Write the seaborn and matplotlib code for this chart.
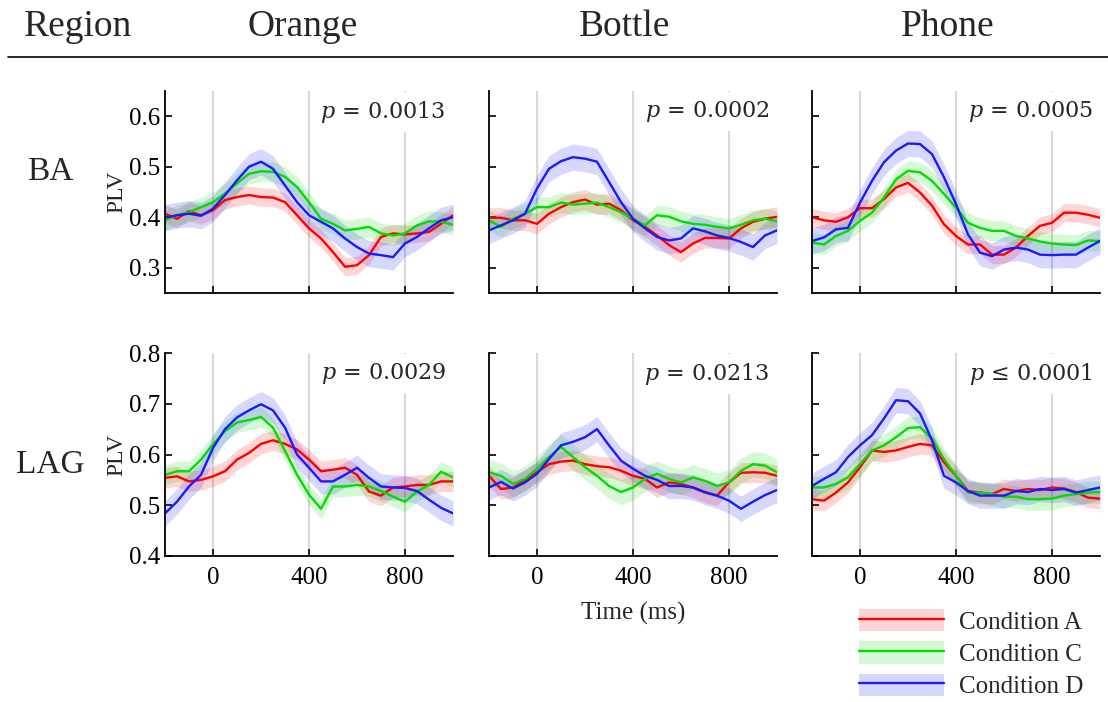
import numpy as np
import pandas as pd
import matplotlib
matplotlib.use("Agg")
import matplotlib.pyplot as plt
import seaborn as sns
from matplotlib.patches import Patch
from matplotlib.lines import Line2D
from matplotlib.legend_handler import HandlerTuple

# ---------------- data ----------------
TIME_MS = [-200, -150, -100, -50, 0, 50, 100, 150, 200, 250, 300, 350, 400,
           450, 500, 550, 600, 650, 700, 750, 800, 850, 900, 950, 1000]

CONDITIONS = ["Condition A", "Condition C", "Condition D"]
OBJECTS = ["Orange", "Bottle", "Phone"]
REGIONS = ["BA", "LAG"]

BA_ORANGE_A = [0.407, 0.397, 0.412, 0.404, 0.414, 0.434, 0.440, 0.444, 0.440, 0.439, 0.430, 0.404, 0.378,
               0.358, 0.331, 0.302, 0.305, 0.325, 0.361, 0.368, 0.366, 0.368, 0.371, 0.387, 0.404]
BA_ORANGE_C = [0.394, 0.404, 0.410, 0.420, 0.430, 0.447, 0.467, 0.486, 0.491, 0.490, 0.480, 0.460, 0.430,
               0.397, 0.387, 0.374, 0.377, 0.381, 0.368, 0.364, 0.368, 0.384, 0.392, 0.391, 0.385]
BA_ORANGE_D = [0.399, 0.404, 0.407, 0.403, 0.417, 0.444, 0.473, 0.500, 0.510, 0.496, 0.463, 0.430, 0.404,
               0.391, 0.378, 0.358, 0.341, 0.328, 0.325, 0.321, 0.348, 0.361, 0.378, 0.394, 0.400]

BA_BOTTLE_A = [0.399, 0.399, 0.394, 0.394, 0.387, 0.407, 0.420, 0.430, 0.435, 0.425, 0.427, 0.414, 0.394,
               0.381, 0.364, 0.345, 0.331, 0.348, 0.359, 0.359, 0.358, 0.378, 0.391, 0.397, 0.401]
BA_BOTTLE_C = [0.394, 0.381, 0.397, 0.407, 0.420, 0.420, 0.429, 0.425, 0.427, 0.429, 0.420, 0.410, 0.397,
               0.384, 0.404, 0.401, 0.392, 0.387, 0.385, 0.381, 0.378, 0.385, 0.394, 0.397, 0.392]
BA_BOTTLE_D = [0.374, 0.384, 0.394, 0.407, 0.457, 0.496, 0.511, 0.519, 0.516, 0.510, 0.470, 0.430, 0.397,
               0.378, 0.361, 0.354, 0.358, 0.378, 0.372, 0.364, 0.359, 0.351, 0.341, 0.364, 0.374]

BA_PHONE_A = [0.400, 0.394, 0.391, 0.400, 0.418, 0.418, 0.436, 0.459, 0.468, 0.449, 0.423, 0.386, 0.363,
              0.346, 0.346, 0.326, 0.326, 0.340, 0.363, 0.383, 0.389, 0.409, 0.409, 0.405, 0.399]
BA_PHONE_C = [0.350, 0.346, 0.363, 0.373, 0.393, 0.409, 0.439, 0.475, 0.492, 0.489, 0.472, 0.446, 0.419,
              0.389, 0.379, 0.373, 0.373, 0.363, 0.358, 0.352, 0.348, 0.346, 0.345, 0.354, 0.353]
BA_PHONE_D = [0.353, 0.360, 0.376, 0.379, 0.429, 0.472, 0.509, 0.532, 0.546, 0.545, 0.525, 0.479, 0.426,
              0.366, 0.330, 0.323, 0.336, 0.340, 0.336, 0.326, 0.325, 0.326, 0.326, 0.340, 0.353]

LAG_ORANGE_A = [0.554, 0.557, 0.547, 0.550, 0.557, 0.567, 0.590, 0.603, 0.621, 0.628, 0.621, 0.610, 0.590,
                0.567, 0.570, 0.574, 0.560, 0.527, 0.519, 0.535, 0.537, 0.540, 0.540, 0.547, 0.547]
LAG_ORANGE_C = [0.560, 0.567, 0.567, 0.590, 0.620, 0.646, 0.663, 0.668, 0.674, 0.653, 0.607, 0.560, 0.521,
                0.493, 0.537, 0.537, 0.540, 0.537, 0.528, 0.517, 0.507, 0.527, 0.540, 0.566, 0.555]
LAG_ORANGE_D = [0.484, 0.507, 0.537, 0.560, 0.613, 0.650, 0.673, 0.687, 0.699, 0.687, 0.653, 0.600, 0.574,
                0.547, 0.547, 0.560, 0.574, 0.554, 0.537, 0.535, 0.534, 0.528, 0.511, 0.495, 0.484]

LAG_BOTTLE_A = [0.558, 0.532, 0.535, 0.550, 0.565, 0.581, 0.586, 0.588, 0.581, 0.577, 0.575, 0.568, 0.558,
                0.552, 0.535, 0.545, 0.542, 0.535, 0.525, 0.519, 0.545, 0.564, 0.565, 0.564, 0.558]
LAG_BOTTLE_C = [0.565, 0.558, 0.542, 0.552, 0.572, 0.595, 0.615, 0.595, 0.575, 0.558, 0.538, 0.526, 0.535,
                0.552, 0.562, 0.552, 0.545, 0.555, 0.548, 0.538, 0.545, 0.568, 0.581, 0.578, 0.565]
LAG_BOTTLE_D = [0.535, 0.546, 0.533, 0.545, 0.562, 0.591, 0.618, 0.625, 0.634, 0.650, 0.618, 0.588, 0.572,
                0.558, 0.550, 0.538, 0.538, 0.535, 0.526, 0.519, 0.509, 0.493, 0.507, 0.520, 0.530]

LAG_PHONE_A = [0.512, 0.509, 0.525, 0.545, 0.575, 0.608, 0.605, 0.608, 0.615, 0.621, 0.618, 0.585, 0.558,
               0.528, 0.525, 0.522, 0.532, 0.528, 0.532, 0.530, 0.535, 0.533, 0.526, 0.515, 0.513]
LAG_PHONE_C = [0.535, 0.535, 0.542, 0.555, 0.581, 0.608, 0.618, 0.634, 0.652, 0.654, 0.631, 0.591, 0.558,
               0.525, 0.525, 0.522, 0.517, 0.517, 0.512, 0.512, 0.513, 0.519, 0.522, 0.525, 0.526]
LAG_PHONE_D = [0.538, 0.552, 0.565, 0.595, 0.618, 0.638, 0.671, 0.707, 0.705, 0.681, 0.628, 0.558, 0.545,
               0.528, 0.519, 0.519, 0.519, 0.528, 0.526, 0.532, 0.530, 0.532, 0.525, 0.530, 0.535]

# error band half-widths (A, C, D) per panel
BAND_BA_ORANGE = [0.018, 0.020, 0.026]
BAND_BA_BOTTLE = [0.020, 0.020, 0.026]
BAND_BA_PHONE = [0.018, 0.020, 0.026]
BAND_LAG_ORANGE = [0.020, 0.020, 0.025]
BAND_LAG_BOTTLE = [0.020, 0.025, 0.025]
BAND_LAG_PHONE = [0.020, 0.022, 0.025]

P_TEXT_BA = [r"$p$ = 0.0013", r"$p$ = 0.0002", r"$p$ = 0.0005"]
P_TEXT_LAG = [r"$p$ = 0.0029", r"$p$ = 0.0213", r"$p$ ≤ 0.0001"]

YTICKS_BA = [0.3, 0.4, 0.5, 0.6]
YTICKS_LAG = [0.4, 0.5, 0.6, 0.7, 0.8]
XTICKS = [0, 400, 800]

PANELS = {
    ("BA", "Orange"): ([BA_ORANGE_A, BA_ORANGE_C, BA_ORANGE_D], BAND_BA_ORANGE),
    ("BA", "Bottle"): ([BA_BOTTLE_A, BA_BOTTLE_C, BA_BOTTLE_D], BAND_BA_BOTTLE),
    ("BA", "Phone"): ([BA_PHONE_A, BA_PHONE_C, BA_PHONE_D], BAND_BA_PHONE),
    ("LAG", "Orange"): ([LAG_ORANGE_A, LAG_ORANGE_C, LAG_ORANGE_D], BAND_LAG_ORANGE),
    ("LAG", "Bottle"): ([LAG_BOTTLE_A, LAG_BOTTLE_C, LAG_BOTTLE_D], BAND_LAG_BOTTLE),
    ("LAG", "Phone"): ([LAG_PHONE_A, LAG_PHONE_C, LAG_PHONE_D], BAND_LAG_PHONE),
}

COLORS = {"Condition A": "#ff0000", "Condition C": "#00dd00", "Condition D": "#1a1aff"}

# ---------------- style ----------------
sns.set_style("ticks")
plt.rcParams["font.family"] = ["Liberation Serif", "DejaVu Serif"]
plt.rcParams["mathtext.fontset"] = "dejavuserif"

W, H = 1108, 702
fig = plt.figure(figsize=(W / 100, H / 100), dpi=100)

LEFTS = [165, 489, 812]
AX_W = 288
ROWS = {"BA": (91, 293, (0.25, 0.65), YTICKS_BA, P_TEXT_BA),
        "LAG": (353, 556, (0.40, 0.80), YTICKS_LAG, P_TEXT_LAG)}

for region in REGIONS:
    top, bot, ylim, yticks, ptexts = ROWS[region]
    for j, obj in enumerate(OBJECTS):
        ax = fig.add_axes([LEFTS[j] / W, 1 - bot / H, AX_W / W, (bot - top) / H])
        series, bands = PANELS[(region, obj)]
        for xv in XTICKS:
            ax.axvline(xv, color="#d8d8d8", lw=1.5, zorder=0)
        rows = []
        for cond, vals in zip(CONDITIONS, series):
            for t, v in zip(TIME_MS, vals):
                rows.append({"time": t, "plv": v, "condition": cond})
        df = pd.DataFrame(rows)
        for cond, vals, bw in zip(CONDITIONS, series, bands):
            v = np.asarray(vals)
            ax.fill_between(TIME_MS, v - bw, v + bw, color=COLORS[cond], alpha=0.17,
                            lw=0, zorder=1)
        sns.lineplot(data=df, x="time", y="plv", hue="condition", palette=COLORS,
                     hue_order=CONDITIONS, legend=False, ax=ax, linewidth=1.7, zorder=2)
        ax.set_xlim(-200, 1000)
        ax.set_ylim(*ylim)
        ax.set_xticks(XTICKS)
        ax.set_yticks(yticks)
        sns.despine(ax=ax)
        for s in ["left", "bottom"]:
            ax.spines[s].set_linewidth(1.3)
            ax.spines[s].set_color("black")
        ax.tick_params(direction="in", length=5, width=1.2, labelsize=18, colors="black")
        ax.tick_params(axis="x", pad=8)
        ax.set_xlabel("")
        ax.set_ylabel("")
        if region == "BA":
            ax.set_xticklabels([])
        else:
            ax.set_xticklabels([str(x) for x in XTICKS])
        if j == 0:
            ax.set_yticklabels([f"{y:.1f}" for y in yticks])
            ax.set_ylabel("PLV", fontsize=17, labelpad=1)
        else:
            ax.set_yticklabels([])
        ax.text(0.975, 0.96, ptexts[j], transform=ax.transAxes, ha="right", va="top",
                fontsize=16, family="DejaVu Serif",
                bbox=dict(facecolor="white", edgecolor="none", pad=5), zorder=5)
        if region == "LAG" and j == 1:
            ax.set_xlabel("Time (ms)", fontsize=18, labelpad=9)

# headers
fig.text(78 / W, 1 - 27 / H, "Region", ha="center", va="center", fontsize=27)
for x, name in zip([303, 625, 948], OBJECTS):
    fig.text(x / W, 1 - 27 / H, name, ha="center", va="center", fontsize=27)
fig.add_artist(Line2D([8 / W, 1.0], [1 - 57 / H, 1 - 57 / H], color="black", lw=1.2))

# row labels
fig.text(50 / W, 1 - 172 / H, "BA", ha="center", va="center", fontsize=24)
fig.text(50 / W, 1 - 465 / H, "LAG", ha="center", va="center", fontsize=24)

# legend
handles = [(Patch(facecolor=COLORS[c], alpha=0.17, edgecolor="none"),
            Line2D([], [], color=COLORS[c], lw=1.7)) for c in CONDITIONS]
fig.legend(handles, CONDITIONS, handler_map={tuple: HandlerTuple(ndivide=1, pad=0)},
           loc="upper left", bbox_to_anchor=(854 / W, 1 - 604 / H), frameon=False,
           fontsize=18, handlelength=3.4, handleheight=1.0, labelspacing=0.3,
           handletextpad=0.6, borderaxespad=0, borderpad=0.2)

fig.savefig("out.png", dpi=100)
